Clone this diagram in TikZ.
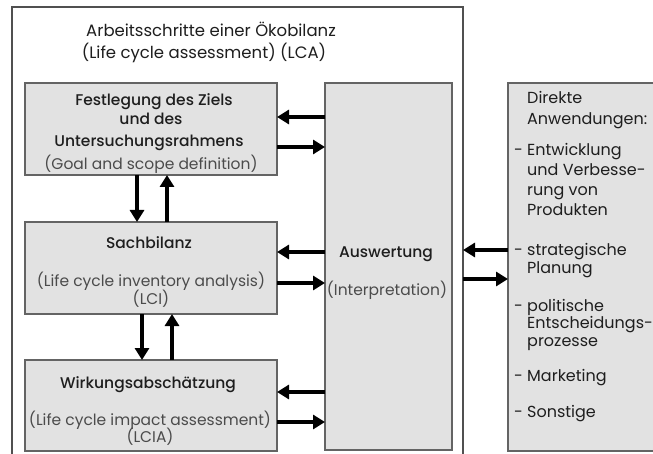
\documentclass[tikz,border=0pt]{standalone}
\usepackage{fontspec}
\setmainfont{Poppins}[BoldFont={Poppins Medium}]
\usetikzlibrary{arrows.meta,shadows}
\definecolor{panel}{RGB}{226,226,226}
\definecolor{rim}{RGB}{100,100,100}
\definecolor{framegray}{RGB}{80,80,80}
\definecolor{ink}{RGB}{30,30,30}
\definecolor{softink}{RGB}{75,75,75}
\begin{document}
\begin{tikzpicture}[x=1pt,y=-1pt,
  stage/.style={draw=rim,line width=1.4pt,fill=panel,inner sep=0pt,outer sep=0pt,
     drop shadow={shadow xshift=1.4pt,shadow yshift=-1.4pt,fill=black!55,opacity=1}},
  flow/.style={line width=3.6pt,-{Triangle[length=12pt,width=14pt]}},
  lbl/.style={anchor=base,inner sep=0pt},
  headtxt/.style={lbl,font=\fontsize{15.5}{17}\selectfont\bfseries,text=ink},
  subtxt/.style={lbl,font=\fontsize{15.5}{17}\selectfont,text=softink},
  titletxt/.style={lbl,font=\fontsize{16.5}{18}\selectfont,text=ink},
  apptxt/.style={anchor=base west,inner sep=0pt,font=\fontsize{16}{18}\selectfont,text=ink},
]
\useasboundingbox (0,0) rectangle (653,454);
\fill[white] (0,0) rectangle (653,454);

% frame around the LCA steps (open at the bottom)
\coordinate (frameNE) at (463,7);
\draw[framegray,line width=1.3pt] (12,454) -- (12,7) -- (frameNE) -- (463,454);

% boxes
\node[stage,minimum width=252pt,minimum height=92pt] (goal) at (151,129) {};
\node[stage,minimum width=252pt,minimum height=92pt] (inv) at (151,268) {};
\node[stage,minimum width=252pt,minimum height=91pt] (imp) at (151,405.5) {};
\node[stage,minimum width=127pt,minimum height=367pt] (aus) at (388.5,266.5) {};
\node[stage,minimum width=160pt,minimum height=368pt] (apps) at (588,267) {};

% title
\node[titletxt] (title1) at (211,37) {Arbeitsschritte einer Ökobilanz};
\node[titletxt] (title2) at (204,59) {(Life cycle assessment) (LCA)};

% box texts
\node[headtxt] (goal1) at (154,106) {Festlegung des Ziels};
\node[headtxt] (goal2) at (151,125) {und des};
\node[headtxt] (goal3) at (149,147) {Untersuchungsrahmens};
\node[subtxt]  (goal4) at (151,170) {(Goal and scope definition)};

\node[headtxt] (inv1) at (149,249) {Sachbilanz};
\node[subtxt]  (inv2) at (151,287) {(Life cycle inventory analysis)};
\node[subtxt]  (inv3) at (151,305) {(LCI)};

\node[headtxt] (imp1) at (148,388) {Wirkungsabschätzung};
\node[subtxt]  (imp2) at (150,425) {(Life cycle impact assessment)};
\node[subtxt]  (imp3) at (150,442) {(LCIA)};

\node[headtxt] (aus1) at (386,258) {Auswertung};
\node[subtxt]  (aus2) at (387,295) {(Interpretation)};

\foreach \txt/\yy [count=\i] in {Direkte/104, Anwendungen:/125,
    \llap{- }Entwicklung/156, und Verbesse-/176, rung von/196, Produkten/216,
    \llap{- }strategische/256, Planung/273,
    \llap{- }politische/311, Entscheidungs-/328, prozesse/346,
    \llap{- }Marketing/381, \llap{- }Sonstige/417}
  \node[apptxt] (app\i) at (527,\yy) {\txt};

% arrows between the steps and the interpretation
\coordinate (g1) at ([yshift=12pt]goal.east);
\coordinate (g2) at ([yshift=-18pt]goal.east);
\draw[flow] (aus.west |- g1) -- (g1);
\draw[flow] (g2) -- (aus.west |- g2);

\coordinate (i1) at ([yshift=16pt]inv.east);
\coordinate (i2) at ([yshift=-15pt]inv.east);
\draw[flow] (aus.west |- i1) -- (i1);
\draw[flow] (i2) -- (aus.west |- i2);

\coordinate (m1) at ([yshift=13.5pt]imp.east);
\coordinate (m2) at ([yshift=-16.5pt]imp.east);
\draw[flow] (aus.west |- m1) -- (m1);
\draw[flow] (m2) -- (aus.west |- m2);

% arrows between consecutive steps
\coordinate (d1) at ([xshift=-14pt]goal.south);
\coordinate (u1) at ([xshift=16pt]goal.south);
\draw[flow] (d1) -- (d1 |- inv.north);
\draw[flow] (u1 |- inv.north) -- (u1);

\coordinate (d2) at ([xshift=-9pt]inv.south);
\coordinate (u2) at ([xshift=21pt]inv.south);
\draw[flow] (d2) -- (d2 |- imp.north);
\draw[flow] (u2 |- imp.north) -- (u2);

% arrows to and from the applications
\coordinate (r1) at ([yshift=17pt]apps.west);
\coordinate (r2) at ([yshift=-12pt]apps.west);
\draw[flow] (r1) -- (frameNE |- r1);
\draw[flow] (frameNE |- r2) -- (r2);
\end{tikzpicture}
\end{document}
